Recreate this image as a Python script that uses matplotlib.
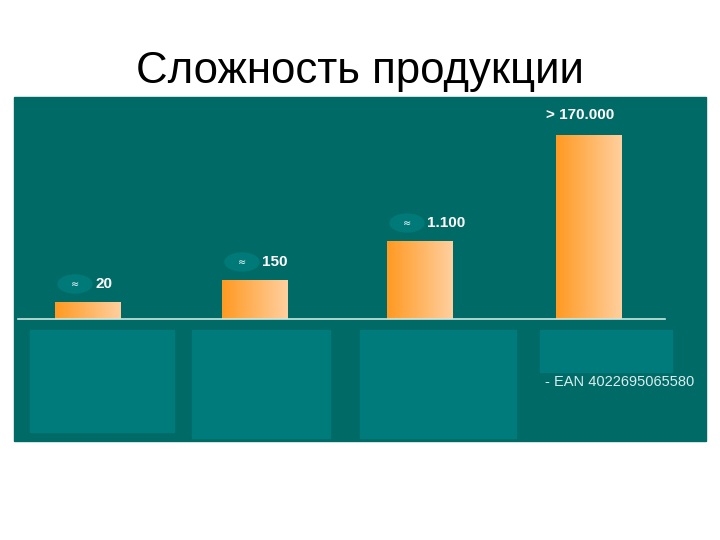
import matplotlib
matplotlib.use("Agg")
import matplotlib.pyplot as plt
import numpy as np
from matplotlib.patches import Rectangle, Ellipse
from matplotlib.colors import LinearSegmentedColormap

categories = ["20", "150", "1.100", "> 170.000"]
approx = [True, True, True, False]
bar_heights = [17, 39, 78, 184]  # visual heights (nonlinear scale)
centers = [88, 255, 420, 589]

fig = plt.figure(figsize=(7.2, 5.4), dpi=100)
ax = fig.add_axes([0, 0, 1, 1])
ax.set_xlim(0, 720); ax.set_ylim(540, 0); ax.axis("off")

ax.text(360, 71, "Сложность продукции", ha="center", va="center", fontsize=31.5, family="Liberation Sans")
ax.add_patch(Rectangle((14, 97), 692, 344, color="#006a66", zorder=0))

base = 319
grad = np.linspace(0, 1, 100)[None, :]
cmap = LinearSegmentedColormap.from_list("o", ["#ff9a22", "#ffcf9e"])
w = 66
for c, h, lab, ap in zip(centers, bar_heights, categories, approx):
    ax.imshow(grad, cmap=cmap, extent=(c - w/2, c + w/2, base, base - h), aspect="auto", zorder=2)
    ty = base - h - 18
    if ap:
        ax.add_patch(Ellipse((c - 13, ty), 34, 18, color="#007a78", zorder=3))
        ax.text(c - 13, ty, "≈", color="white", fontsize=7, ha="center", va="center", zorder=4)
        ax.text(c + 7, ty, lab, color="white", fontsize=11, fontweight="bold", ha="left", va="center",
                family="Liberation Sans", zorder=4)
    else:
        ax.text(c - 43, base - h - 20, lab, color="white", fontsize=11, fontweight="bold", ha="left", va="center",
                family="Liberation Sans", zorder=4)

ax.plot([18, 665], [base, base], color="#cfe6e0", lw=1.2, zorder=3)

for x0, y0, x1, y1 in [(30, 330, 174, 432), (192, 330, 330, 438), (360, 330, 516, 438), (540, 330, 672, 372)]:
    ax.add_patch(Rectangle((x0, y0), x1 - x0, y1 - y0, color="#007b7b", zorder=1))
ax.text(545, 382, "- EAN 4022695065580", color="#d8eeee", fontsize=10.5, ha="left", va="center",
        family="Liberation Sans")

fig.savefig("out.png", dpi=100)
